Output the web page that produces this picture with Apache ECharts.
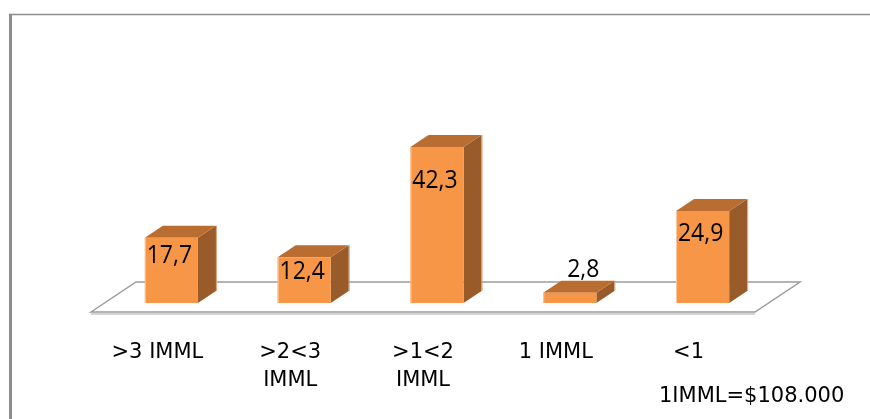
<!DOCTYPE html>
<html>
<head>
<meta charset="utf-8">
<script src="https://cdn.jsdelivr.net/npm/echarts@6/dist/echarts.min.js"></script>
<style>
  html, body { margin: 0; padding: 0; background: #fff; }
  #chart { width: 870px; height: 419px; }
</style>
</head>
<body>
<div id="chart"></div>
<script>
// Income brackets (in IMML) and the share of households in each, in percent
const categories = ['>3 IMML', '>2<3\nIMML', '>1<2\nIMML', '1 IMML', '<1'];
const shares = [17.7, 12.4, 42.3, 2.8, 24.9];
const footnote = '1IMML=$108.000';

// 3D look: bars sit set back from the front edge of the floor
const SET_BACK = [14, -9];
const BAR_DEPTH = [18, -12];
const FLOOR_DEPTH = [45, -30];

const FRONT = '#F79646';
const TOP = '#B96D31';
const SIDE = '#9A5B2A';

const fmt = v => String(v).replace('.', ',');

function renderFloor(params, api) {
  const cs = params.coordSys;
  const fy = cs.y + cs.height;
  const x1 = cs.x, x2 = cs.x + cs.width;
  const [ddx, ddy] = FLOOR_DEPTH;
  return {
    type: 'group',
    children: [
      {
        type: 'polyline',
        shape: { points: [[x1, fy + 2], [x2, fy + 2]] },
        style: { stroke: '#d4d4d4', lineWidth: 2, fill: null }
      },
      {
        type: 'polygon',
        shape: { points: [[x1, fy], [x1 + ddx, fy + ddy], [x2 + ddx, fy + ddy], [x2, fy]] },
        style: { fill: '#ffffff', stroke: '#9c9c9c', lineWidth: 1.5 }
      }
    ]
  };
}

function renderBar(params, api) {
  const idx = api.value(0);
  const val = api.value(1);
  const base = api.coord([idx, 0]);
  const peak = api.coord([idx, val]);
  const w = api.size([1, 0])[0] * 0.4;
  const cx = base[0] + SET_BACK[0];
  const yb = base[1] + SET_BACK[1];
  const yt = peak[1] + SET_BACK[1];
  const h = yb - yt;
  const xl = cx - w / 2, xr = cx + w / 2;
  const [bdx, bdy] = BAR_DEPTH;

  const children = [
    {
      type: 'polygon',
      shape: { points: [[xr, yt], [xr, yb], [xr + bdx, yb + bdy], [xr + bdx, yt + bdy]] },
      style: { fill: SIDE }
    },
    {
      type: 'polygon',
      shape: { points: [[xl, yt], [xr, yt], [xr + bdx, yt + bdy], [xl + bdx, yt + bdy]] },
      style: { fill: TOP }
    },
    {
      type: 'rect',
      shape: { x: xl, y: yt, width: w, height: h },
      style: { fill: FRONT }
    },
    {
      type: 'line',
      shape: { x1: xl + 0.5, y1: yt, x2: xl + 0.5, y2: yb },
      style: { stroke: '#FBC79B', lineWidth: 1 }
    },
    {
      type: 'line',
      shape: { x1: xr + bdx + 0.5, y1: yt + bdy, x2: xr + bdx + 0.5, y2: yb + bdy },
      style: { stroke: '#D9A27A', lineWidth: 1 }
    }
  ];

  // value label: inside near the top for tall bars, above for short ones
  let lx, ly;
  if (h > 30) {
    lx = cx - 2;
    ly = yt + 0.18 * h + 6;
  } else {
    lx = cx + bdx * 0.75;
    ly = yt - 23;
  }
  children.push({
    type: 'text',
    x: lx,
    y: ly,
    scaleY: 1.1,
    style: {
      text: fmt(val),
      x: 0,
      y: 0,
      align: 'center',
      verticalAlign: 'middle',
      fill: '#000',
      font: '23px "Open Sans"'
    }
  });
  return { type: 'group', children };
}

const chart = echarts.init(document.getElementById('chart'), null, { renderer: 'canvas' });

chart.setOption({
  animation: false,
  backgroundColor: '#ffffff',
  grid: { left: 91, right: 115, top: 127.5, bottom: 107 },
  xAxis: {
    type: 'category',
    data: categories,
    axisLine: { show: false },
    axisTick: { show: false },
    splitLine: { show: false },
    axisLabel: {
      margin: 27,
      interval: 0,
      color: '#000',
      fontFamily: 'DejaVu Sans',
      fontSize: 21,
      lineHeight: 28
    }
  },
  yAxis: {
    type: 'value',
    min: 0,
    max: 50,
    show: false,
    splitLine: { show: false }
  },
  series: [
    {
      type: 'custom',
      renderItem: renderFloor,
      data: [[0, 0]],
      z: 1,
      silent: true
    },
    {
      type: 'custom',
      renderItem: renderBar,
      data: shares.map((v, i) => [i, v]),
      z: 2
    }
  ],
  graphic: [
    {
      type: 'line',
      shape: { x1: 10.5, y1: 14, x2: 10.5, y2: 419 },
      style: { stroke: '#8c8c8c', lineWidth: 3 }
    },
    {
      type: 'line',
      shape: { x1: 9, y1: 14.5, x2: 870, y2: 14.5 },
      style: { stroke: '#8c8c8c', lineWidth: 1.5 }
    },
    {
      type: 'text',
      left: 659,
      top: 386,
      style: {
        text: footnote,
        fill: '#000',
        font: '21px "DejaVu Sans"'
      }
    }
  ]
});
</script>
</body>
</html>
